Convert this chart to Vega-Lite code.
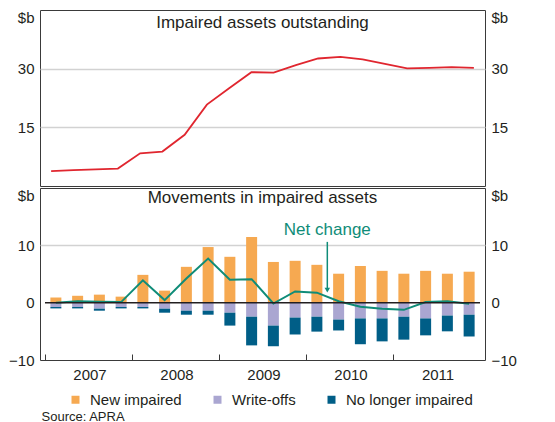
{
  "$schema": "https://vega.github.io/schema/vega-lite/v6.json",
  "padding": {"left": 5, "top": 9, "right": 5, "bottom": 0},
  "background": "white",
  "config": {
    "font": "Liberation Sans",
    "view": {"stroke": "#3a3a3a", "strokeWidth": 1},
    "concat": {"spacing": 0},
    "axis": {"labelFont": "Liberation Sans", "labelFontSize": 15, "labelColor": "#231f20", "gridColor": "#d2d2d2", "gridWidth": 1.5},
    "axisY": {"domain": false, "ticks": false},
    "text": {"font": "Liberation Sans", "color": "#231f20"}
  },
  "datasets": {
    "outstanding": [
      {"t": 2007.125, "value": 3.8}, {"t": 2007.375, "value": 4.05}, {"t": 2007.625, "value": 4.25}, {"t": 2007.875, "value": 4.45},
      {"t": 2008.125, "value": 8.35}, {"t": 2008.375, "value": 8.8}, {"t": 2008.625, "value": 13.1}, {"t": 2008.875, "value": 20.8},
      {"t": 2009.125, "value": 25.0}, {"t": 2009.375, "value": 29.1}, {"t": 2009.625, "value": 29.0}, {"t": 2009.875, "value": 30.9},
      {"t": 2010.125, "value": 32.6}, {"t": 2010.375, "value": 33.0}, {"t": 2010.625, "value": 32.4}, {"t": 2010.875, "value": 31.2},
      {"t": 2011.125, "value": 30.1}, {"t": 2011.375, "value": 30.2}, {"t": 2011.625, "value": 30.4}, {"t": 2011.875, "value": 30.2}
    ],
    "movements": [
      {"t": 2007.125, "series": "New impaired", "value": 0.9}, {"t": 2007.125, "series": "Write-offs", "value": -0.75}, {"t": 2007.125, "series": "No longer impaired", "value": -0.25},
      {"t": 2007.375, "series": "New impaired", "value": 1.2}, {"t": 2007.375, "series": "Write-offs", "value": -0.75}, {"t": 2007.375, "series": "No longer impaired", "value": -0.25},
      {"t": 2007.625, "series": "New impaired", "value": 1.4}, {"t": 2007.625, "series": "Write-offs", "value": -1.05}, {"t": 2007.625, "series": "No longer impaired", "value": -0.35},
      {"t": 2007.875, "series": "New impaired", "value": 1.05}, {"t": 2007.875, "series": "Write-offs", "value": -0.75}, {"t": 2007.875, "series": "No longer impaired", "value": -0.25},
      {"t": 2008.125, "series": "New impaired", "value": 4.85}, {"t": 2008.125, "series": "Write-offs", "value": -0.75}, {"t": 2008.125, "series": "No longer impaired", "value": -0.25},
      {"t": 2008.375, "series": "New impaired", "value": 2.1}, {"t": 2008.375, "series": "Write-offs", "value": -1.05}, {"t": 2008.375, "series": "No longer impaired", "value": -0.7},
      {"t": 2008.625, "series": "New impaired", "value": 6.25}, {"t": 2008.625, "series": "Write-offs", "value": -1.4}, {"t": 2008.625, "series": "No longer impaired", "value": -0.7},
      {"t": 2008.875, "series": "New impaired", "value": 9.7}, {"t": 2008.875, "series": "Write-offs", "value": -1.4}, {"t": 2008.875, "series": "No longer impaired", "value": -0.7},
      {"t": 2009.125, "series": "New impaired", "value": 8.0}, {"t": 2009.125, "series": "Write-offs", "value": -1.75}, {"t": 2009.125, "series": "No longer impaired", "value": -2.25},
      {"t": 2009.375, "series": "New impaired", "value": 11.45}, {"t": 2009.375, "series": "Write-offs", "value": -2.45}, {"t": 2009.375, "series": "No longer impaired", "value": -5.0},
      {"t": 2009.625, "series": "New impaired", "value": 7.1}, {"t": 2009.625, "series": "Write-offs", "value": -4.0}, {"t": 2009.625, "series": "No longer impaired", "value": -3.6},
      {"t": 2009.875, "series": "New impaired", "value": 7.3}, {"t": 2009.875, "series": "Write-offs", "value": -2.6}, {"t": 2009.875, "series": "No longer impaired", "value": -2.95},
      {"t": 2010.125, "series": "New impaired", "value": 6.6}, {"t": 2010.125, "series": "Write-offs", "value": -2.45}, {"t": 2010.125, "series": "No longer impaired", "value": -2.6},
      {"t": 2010.375, "series": "New impaired", "value": 5.05}, {"t": 2010.375, "series": "Write-offs", "value": -2.95}, {"t": 2010.375, "series": "No longer impaired", "value": -1.9},
      {"t": 2010.625, "series": "New impaired", "value": 6.4}, {"t": 2010.625, "series": "Write-offs", "value": -2.75}, {"t": 2010.625, "series": "No longer impaired", "value": -4.5},
      {"t": 2010.875, "series": "New impaired", "value": 5.55}, {"t": 2010.875, "series": "Write-offs", "value": -2.75}, {"t": 2010.875, "series": "No longer impaired", "value": -4.0},
      {"t": 2011.125, "series": "New impaired", "value": 5.05}, {"t": 2011.125, "series": "Write-offs", "value": -2.45}, {"t": 2011.125, "series": "No longer impaired", "value": -4.0},
      {"t": 2011.375, "series": "New impaired", "value": 5.55}, {"t": 2011.375, "series": "Write-offs", "value": -2.75}, {"t": 2011.375, "series": "No longer impaired", "value": -2.95},
      {"t": 2011.625, "series": "New impaired", "value": 5.05}, {"t": 2011.625, "series": "Write-offs", "value": -2.25}, {"t": 2011.625, "series": "No longer impaired", "value": -2.75},
      {"t": 2011.875, "series": "New impaired", "value": 5.4}, {"t": 2011.875, "series": "Write-offs", "value": -2.1}, {"t": 2011.875, "series": "No longer impaired", "value": -3.8}
    ],
    "net": [
      {"t": 2007.125, "value": 0.0}, {"t": 2007.375, "value": 0.25}, {"t": 2007.625, "value": 0.15}, {"t": 2007.875, "value": 0.1},
      {"t": 2008.125, "value": 3.9}, {"t": 2008.375, "value": 0.45}, {"t": 2008.625, "value": 4.2}, {"t": 2008.875, "value": 7.7},
      {"t": 2009.125, "value": 4.0}, {"t": 2009.375, "value": 4.1}, {"t": 2009.625, "value": -0.15}, {"t": 2009.875, "value": 1.95},
      {"t": 2010.125, "value": 1.75}, {"t": 2010.375, "value": 0.25}, {"t": 2010.625, "value": -0.7}, {"t": 2010.875, "value": -1.05},
      {"t": 2011.125, "value": -1.25}, {"t": 2011.375, "value": 0.1}, {"t": 2011.625, "value": 0.25}, {"t": 2011.875, "value": -0.2}
    ],
    "note": [
      {"t": 2010.245, "label": "Net change", "labelY": 11.8, "top": 10.6, "tip": 2.2}
    ]
  },
  "vconcat": [
    {
      "width": 445,
      "height": 176,
      "layer": [
        {
          "data": {"name": "outstanding"},
          "mark": {"type": "line", "color": "#e0262f", "strokeWidth": 1.8},
          "encoding": {
            "x": {"field": "t", "type": "quantitative", "scale": {"domain": [2007, 2012], "nice": false, "zero": false}, "axis": null},
            "y": {
              "field": "value", "type": "quantitative",
              "scale": {"domain": [0, 45], "nice": false},
              "axis": {
                "title": null,
                "orient": "left", "values": [15, 30, 45],
                "labelExpr": "datum.value == 45 ? '$b' : datum.label",
                "labelBaseline": {"condition": {"test": "datum.value == 45", "value": "top"}, "value": "middle"},
                "labelAlign": "right", "labelPadding": 6, "minExtent": 34, "maxExtent": 34,
                "grid": true,
                "gridOpacity": {"condition": {"test": "datum.value == 45", "value": 0}, "value": 1}
              }
            }
          }
        },
        {
          "data": {"values": [{"label": "Impaired assets outstanding"}]},
          "mark": {"type": "text", "baseline": "top", "align": "center", "dy": 5, "fontSize": 17},
          "encoding": {
            "x": {"datum": 2009.5, "type": "quantitative", "axis": null},
            "y": {
              "datum": 45, "type": "quantitative",
              "axis": {
                "title": null,
                "orient": "right", "values": [15, 30, 45],
                "labelExpr": "datum.value == 45 ? '$b' : datum.label",
                "labelBaseline": {"condition": {"test": "datum.value == 45", "value": "top"}, "value": "middle"},
                "labelAlign": "left", "labelPadding": 6, "minExtent": 34, "maxExtent": 34,
                "grid": false
              }
            },
            "text": {"field": "label"}
          }
        }
      ],
      "resolve": {"axis": {"y": "independent"}}
    },
    {
      "width": 445,
      "height": 172,
      "layer": [
        {
          "data": {"name": "movements"},
          "mark": {"type": "bar", "size": 11},
          "encoding": {
            "x": {
              "field": "t", "type": "quantitative",
              "scale": {"domain": [2007, 2012], "nice": false, "zero": false},
              "axis": {
                "values": [2007, 2008, 2009, 2010, 2011], "format": "d",
                "labelOffset": 44.5, "labelFlush": false, "labelOverlap": false,
                "labelPadding": 13,
                "domain": false, "grid": false,
                "ticks": true, "tickSize": -6, "tickColor": "#3a3a3a", "tickWidth": 1,
                "title": "Source: APRA", "titleX": 1, "titleY": 60, "titleAlign": "left", "titleAnchor": "start",
                "titleBaseline": "alphabetic", "titleFontSize": 13, "titleFontWeight": "normal", "titleColor": "#231f20", "titleFont": "Liberation Sans"
              }
            },
            "y": {
              "field": "value", "type": "quantitative", "stack": "zero",
              "scale": {"domain": [-10, 20], "nice": false},
              "axis": {
                "title": null,
                "orient": "left", "values": [-10, 0, 10, 20],
                "labelExpr": "datum.value == 20 ? '$b' : datum.label",
                "labelBaseline": {"condition": {"test": "datum.value == 20", "value": "top"}, "value": "middle"},
                "labelAlign": "right",
                "labelPadding": 6,
                "minExtent": 34, "maxExtent": 34,
                "grid": true,
                "gridOpacity": {"condition": {"test": "datum.value == 10", "value": 1}, "value": 0}
              }
            },
            "color": {
              "field": "series", "type": "nominal",
              "scale": {"domain": ["New impaired", "Write-offs", "No longer impaired"], "range": ["#f6a951", "#aaa6d1", "#005e87"]},
              "legend": {
                "orient": "none", "legendX": 28, "legendY": 382, "direction": "horizontal", "title": null,
                "symbolType": "square", "symbolSize": 64, "symbolStrokeWidth": 0, "symbolOpacity": 1,
                "labelFontSize": 15, "labelFont": "Liberation Sans", "labelColor": "#231f20",
                "columnPadding": 28, "labelOffset": 7, "padding": 0
              }
            },
            "order": {"field": "series", "sort": "descending"}
          }
        },
        {
          "data": {"name": "net"},
          "mark": {"type": "line", "color": "#0f8c78", "strokeWidth": 2},
          "encoding": {
            "x": {"field": "t", "type": "quantitative"},
            "y": {"field": "value", "type": "quantitative", "axis": null}
          }
        },
        {
          "data": {"name": "note"},
          "mark": {"type": "rule", "color": "#0f8c78", "strokeWidth": 1.5},
          "encoding": {
            "x": {"field": "t", "type": "quantitative"},
            "y": {"field": "top", "type": "quantitative", "axis": null},
            "y2": {"field": "tip"}
          }
        },
        {
          "data": {"name": "note"},
          "mark": {"type": "point", "shape": "triangle-down", "filled": true, "color": "#0f8c78", "size": 30, "opacity": 1},
          "encoding": {
            "x": {"field": "t", "type": "quantitative"},
            "y": {"field": "tip", "type": "quantitative", "axis": null}
          }
        },
        {
          "data": {"name": "note"},
          "mark": {"type": "text", "color": "#0f8c78", "fontSize": 17, "align": "center", "baseline": "alphabetic"},
          "encoding": {
            "x": {"field": "t", "type": "quantitative"},
            "y": {"field": "labelY", "type": "quantitative", "axis": null},
            "text": {"field": "label"}
          }
        },
        {
          "data": {"values": [{"label": "Movements in impaired assets"}]},
          "mark": {"type": "text", "baseline": "top", "align": "center", "dy": 2, "fontSize": 17},
          "encoding": {
            "x": {"datum": 2009.5, "type": "quantitative"},
            "y": {
              "datum": 20, "type": "quantitative",
              "axis": {
                "title": null,
                "orient": "right", "values": [-10, 0, 10, 20],
                "labelExpr": "datum.value == 20 ? '$b' : datum.label",
                "labelBaseline": {"condition": {"test": "datum.value == 20", "value": "top"}, "value": "middle"},
                "labelAlign": "left", "labelPadding": 6, "minExtent": 34, "maxExtent": 34,
                "grid": false
              }
            },
            "text": {"field": "label"}
          }
        },
        {
          "data": {"values": [{"label": "zero"}]},
          "mark": {"type": "rule", "color": "#231f20", "strokeWidth": 1.5},
          "encoding": {
            "x": {"datum": 2007, "type": "quantitative"},
            "x2": {"datum": 2012},
            "y": {"datum": 0, "type": "quantitative", "axis": null}
          }
        }
      ],
      "resolve": {"axis": {"y": "independent"}}
    }
  ]
}
